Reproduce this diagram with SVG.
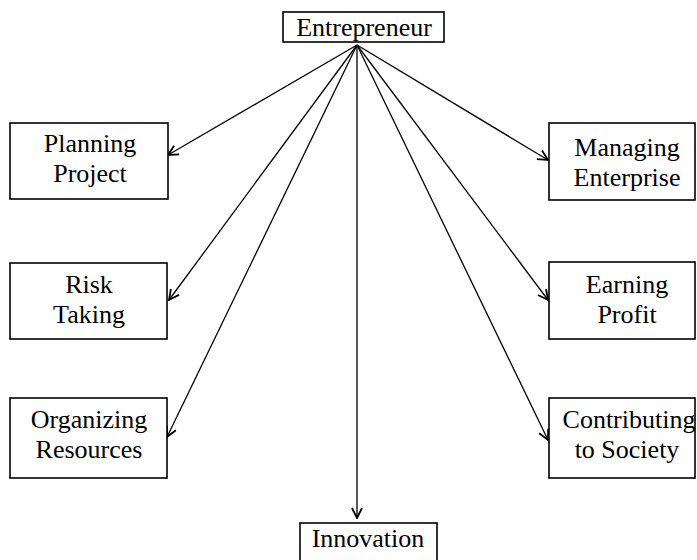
<svg xmlns="http://www.w3.org/2000/svg" width="697" height="560" viewBox="0 0 697 560">
<defs>
<marker id="ah" viewBox="0 0 12 12" refX="11" refY="6" markerWidth="12" markerHeight="12" markerUnits="userSpaceOnUse" orient="auto">
<path d="M1,1 L11,6 L1,11" fill="none" stroke="#000" stroke-width="1.8"/>
</marker>
<style>
.box{fill:#fff;stroke:#000;stroke-width:1.6}
.t{font-family:"Liberation Serif","Times New Roman",serif;font-size:26px;fill:#000;text-anchor:middle}
.c{stroke:#000;stroke-width:1.3;fill:none;marker-end:url(#ah)}
</style>
</defs>
<rect width="697" height="560" fill="#fff"/>
<g id="connectors">
<line class="c" x1="357" y1="45" x2="168" y2="155"/>
<line class="c" x1="357" y1="45" x2="169" y2="300"/>
<line class="c" x1="357" y1="45" x2="167" y2="437"/>
<line class="c" x1="357" y1="45" x2="548" y2="160"/>
<line class="c" x1="357" y1="45" x2="548" y2="300"/>
<line class="c" x1="357" y1="45" x2="548" y2="440"/>
<line class="c" x1="357" y1="45" x2="357" y2="518"/>
</g>
<g id="entrepreneur">
<rect class="box" x="283" y="12" width="161" height="30"/>
<text class="t" x="364" y="36">Entrepreneur</text>
</g>
<g id="planning">
<rect class="box" x="10" y="123" width="158" height="76"/>
<text class="t" x="90" y="152">Planning</text>
<text class="t" x="90" y="182">Project</text>
</g>
<g id="risk">
<rect class="box" x="10" y="263" width="157" height="76"/>
<text class="t" x="89" y="293">Risk</text>
<text class="t" x="89" y="323">Taking</text>
</g>
<g id="organizing">
<rect class="box" x="10" y="398" width="157" height="80"/>
<text class="t" x="89" y="428">Organizing</text>
<text class="t" x="89" y="458">Resources</text>
</g>
<g id="managing">
<rect class="box" x="549" y="123" width="146" height="77"/>
<text class="t" x="627" y="156">Managing</text>
<text class="t" x="627" y="186">Enterprise</text>
</g>
<g id="earning">
<rect class="box" x="549" y="262" width="146" height="77"/>
<text class="t" x="627" y="293">Earning</text>
<text class="t" x="627" y="323">Profit</text>
</g>
<g id="contributing">
<rect class="box" x="549" y="398" width="146" height="80"/>
<text class="t" x="629" y="428">Contributing</text>
<text class="t" x="627" y="458">to Society</text>
</g>
<g id="innovation">
<rect class="box" x="300" y="523" width="137" height="45"/>
<text class="t" x="368" y="547">Innovation</text>
</g>
</svg>
